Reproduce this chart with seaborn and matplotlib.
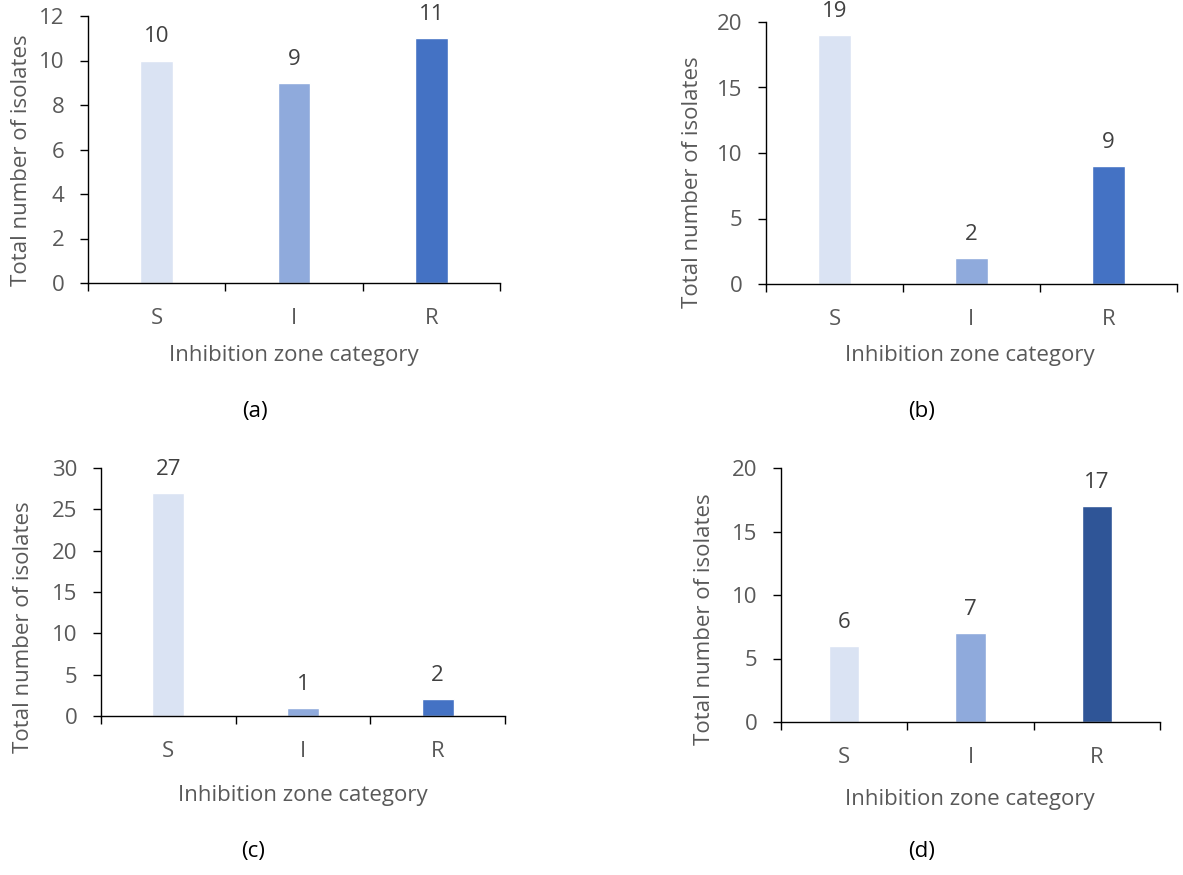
import numpy as np
import pandas as pd
import seaborn as sns
import matplotlib.pyplot as plt

sns.set_style("white")
plt.rcParams['font.family'] = ['Open Sans', 'DejaVu Sans']

categories = ['S', 'I', 'R']
counts_a = [10, 9, 11]
counts_b = [19, 2, 9]
counts_c = [27, 1, 2]
counts_d = [6, 7, 17]
panel_labels = ['(a)', '(b)', '(c)', '(d)']
ymax = [12, 20, 30, 20]
ystep = [2, 5, 5, 5]

light = '#DAE3F3'
mid = '#8FAADC'
dark = '#4472C4'
darker = '#2F5597'
palettes = [[light, mid, dark], [light, mid, dark], [light, mid, dark], [light, mid, darker]]

W, H = 1183, 875
fig = plt.figure(figsize=(W / 100, H / 100), dpi=100)

# pixel boxes: left, top, right, bottom of each plot area
boxes = [(88, 16, 500, 283), (766, 22, 1177, 284), (101, 468, 505, 716), (781, 468, 1160, 722)]
# ylabel centre, xlabel centre, panel letter centre (pixels)
ylab_pos = [(22, 160), (693, 182), (24, 627), (705, 619)]
xlab_pos = [(294, 355), (970, 355), (303, 795), (970, 800)]
letter_pos = [(255, 412), (922, 412), (253, 852), (922, 852)]

txt = '#595959'
fs = 16
all_counts = [counts_a, counts_b, counts_c, counts_d]

for i, vals in enumerate(all_counts):
    l, t, r, b = boxes[i]
    ax = fig.add_axes([l / W, 1 - b / H, (r - l) / W, (b - t) / H])
    df = pd.DataFrame({'cat': categories, 'n': vals})
    sns.barplot(data=df, x='cat', y='n', hue='cat', palette=palettes[i], width=0.24,
                saturation=1, legend=False, edgecolor='white', linewidth=1, ax=ax)
    ax.set_xlim(-0.5, 2.5)
    ax.set_ylim(0, ymax[i])
    ax.set_yticks(np.arange(0, ymax[i] + 1, ystep[i]))
    # category boundaries carry the tick marks, labels sit at the centres
    ax.set_xticks([-0.5, 0.5, 1.5, 2.5])
    ax.set_xticklabels([])
    ax.set_xticks([0, 1, 2], minor=True)
    ax.set_xticklabels(categories, minor=True)
    ax.tick_params(axis='x', which='major', length=6, width=1, direction='out', color='black', bottom=True)
    ax.tick_params(axis='x', which='minor', length=0, pad=18, labelsize=fs, labelcolor=txt)
    ax.tick_params(axis='y', length=6, width=1, direction='out', color='black', left=True,
                   pad=11, labelsize=fs, labelcolor=txt)
    for s in ['top', 'right']:
        ax.spines[s].set_visible(False)
    for s in ['left', 'bottom']:
        ax.spines[s].set_color('black')
        ax.spines[s].set_linewidth(1)
    ax.set_xlabel('')
    ax.set_ylabel('')
    for x, v in enumerate(vals):
        ax.annotate(str(v), (x, v), xytext=(0, 17), textcoords='offset points',
                    ha='center', va='center', fontsize=fs, color='#404040',
                    annotation_clip=False)
    fig.text(ylab_pos[i][0] / W, 1 - ylab_pos[i][1] / H, 'Total number of isolates',
             rotation=90, ha='center', va='center', fontsize=fs, color=txt)
    fig.text(xlab_pos[i][0] / W, 1 - xlab_pos[i][1] / H, 'Inhibition zone category',
             ha='center', va='center', fontsize=fs, color=txt)
    fig.text(letter_pos[i][0] / W, 1 - letter_pos[i][1] / H, panel_labels[i],
             ha='center', va='center', fontsize=fs, color='black')

fig.savefig('out.png', dpi=100)
